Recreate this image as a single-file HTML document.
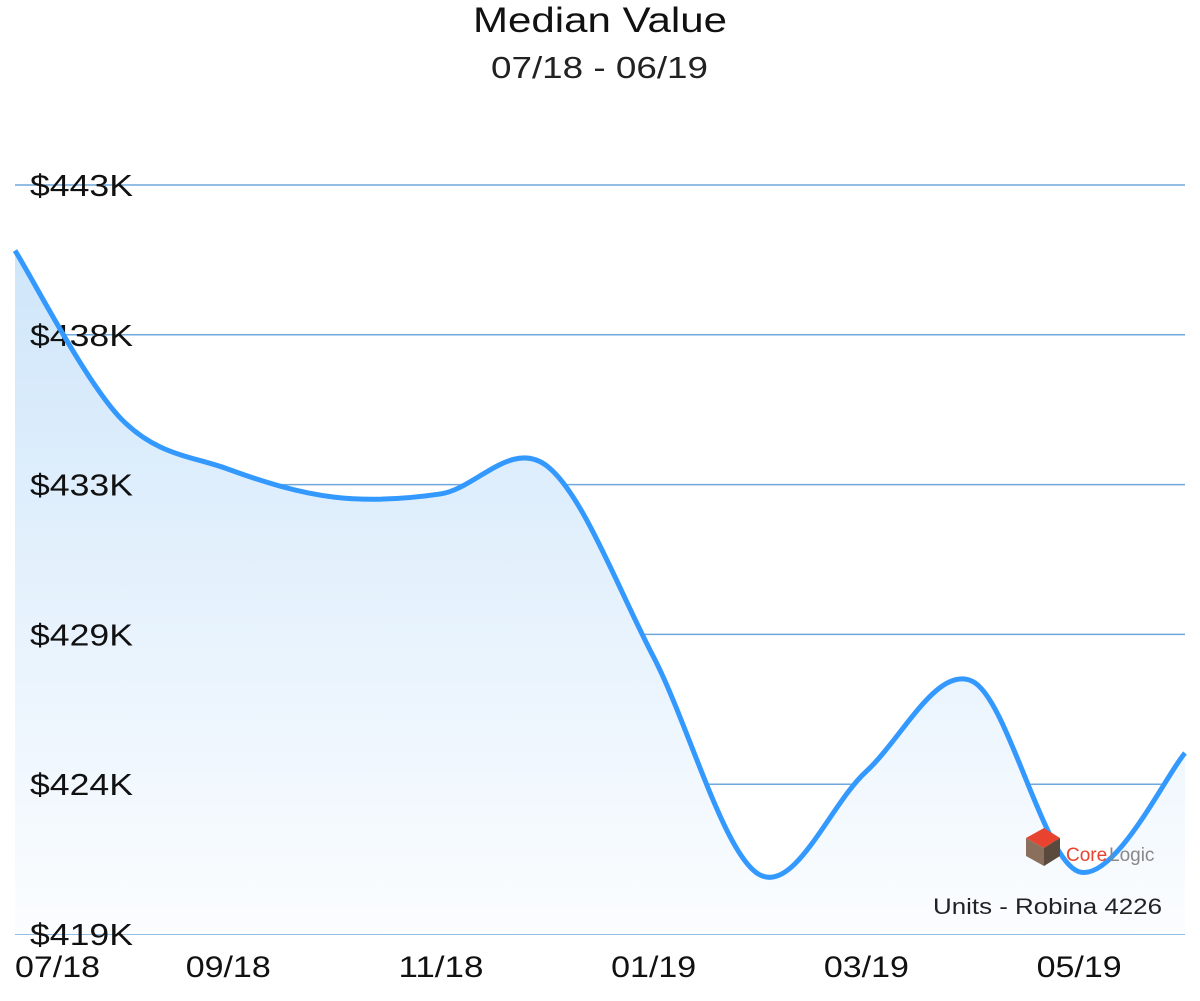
<!DOCTYPE html>
<html><head><meta charset="utf-8"><style>
html,body{margin:0;padding:0;background:#fff;}
svg text{font-family:"Liberation Sans",sans-serif;}
</style></head><body>
<svg id="chart" width="1200" height="996" viewBox="0 0 1200 996" xmlns="http://www.w3.org/2000/svg">
<defs>
<linearGradient id="fillg" x1="0" y1="0" x2="0" y2="1">
<stop offset="0" stop-color="#cfe6fa"/>
<stop offset="1" stop-color="#fbfdff"/>
</linearGradient>
</defs>
<text x="473" y="32" textLength="254" lengthAdjust="spacingAndGlyphs" font-size="35" fill="#111">Median Value</text>
<text x="491" y="78" textLength="217" lengthAdjust="spacingAndGlyphs" font-size="31" fill="#222">07/18 - 06/19</text>
<g id="grid"></g>
<path id="area" fill="url(#fillg)"></path>
<g id="ylabels"></g>
<path id="line" fill="none" stroke="#3399ff" stroke-width="5" stroke-linejoin="round"></path>
<g id="xlabels"></g>
<g>
<polygon points="1026,838 1044,828 1060,838 1044,848" fill="#e8432e"/>
<polygon points="1026,838 1044,848 1044,866 1026,856" fill="#8a6f5c"/>
<polygon points="1044,848 1060,838 1060,856 1044,866" fill="#5a4a3e"/>
<text x="1066" y="861" font-size="19" fill="#e8432e">Core</text><text x="1109" y="861" font-size="19" fill="#888">Logic</text>
</g>
<text x="933" y="914" textLength="229" lengthAdjust="spacingAndGlyphs" font-size="22" fill="#222">Units - Robina 4226</text>
</svg>
<script>
const months=["07/18","08/18","09/18","10/18","11/18","12/18","01/19","02/19","03/19","04/19","05/19","06/19"];
const values=[440.9,435.5,433.9,433.0,433.1,434.0,427.9,420.9,424.2,427.1,421.0,424.8];
const yTickValues=[419,423.8,428.6,433.4,438.2,443];
const yTickLabels=["$419K","$424K","$429K","$433K","$438K","$443K"];
const xLabelIdx=[0,2,4,6,8,10];
const NS="http://www.w3.org/2000/svg";
const X0=15,X1=1185,Y0=934,Y1=185,VMIN=419,VMAX=443;
const xs=i=>X0+(X1-X0)*i/(months.length-1);
const ys=v=>Y0-(v-VMIN)/(VMAX-VMIN)*(Y0-Y1);
const grid=document.getElementById('grid'),yl=document.getElementById('ylabels'),xl=document.getElementById('xlabels');
yTickValues.forEach((v,i)=>{
 const l=document.createElementNS(NS,'line');
 l.setAttribute('x1',15);l.setAttribute('x2',1185);l.setAttribute('y1',ys(v));l.setAttribute('y2',ys(v));
 l.setAttribute('stroke','#6fa8dc');l.setAttribute('stroke-width','1.5');
 
 
 grid.appendChild(l);
 const t=document.createElementNS(NS,'text');
 t.setAttribute('x',30);t.setAttribute('y',ys(v)+11);t.setAttribute('font-size','31');t.setAttribute('fill','#111');
 t.setAttribute('textLength','103');t.setAttribute('lengthAdjust','spacingAndGlyphs');
 t.textContent=yTickLabels[i];
 
 
 yl.appendChild(t);
});
xLabelIdx.forEach(i=>{
 const t=document.createElementNS(NS,'text');
 t.setAttribute('x',i===0?15:xs(i)-42);t.setAttribute('y',977);t.setAttribute('font-size','30');t.setAttribute('fill','#111');
 t.setAttribute('textLength','85');t.setAttribute('lengthAdjust','spacingAndGlyphs');
 t.textContent=months[i];
 
 
 xl.appendChild(t);
});
const pts=values.map((v,i)=>[xs(i),ys(v)]);
let d='M'+pts[0][0]+','+pts[0][1];
for(let i=0;i<pts.length-1;i++){
 const p0=pts[Math.max(0,i-1)],p1=pts[i],p2=pts[i+1],p3=pts[Math.min(pts.length-1,i+2)];
 const c1=[p1[0]+(p2[0]-p0[0])/6,p1[1]+(p2[1]-p0[1])/6];
 const c2=[p2[0]-(p3[0]-p1[0])/6,p2[1]-(p3[1]-p1[1])/6];
 d+=' C'+c1[0]+','+c1[1]+' '+c2[0]+','+c2[1]+' '+p2[0]+','+p2[1];
}
document.getElementById('line').setAttribute('d',d);
document.getElementById('area').setAttribute('d',d+' L'+X1+','+Y0+' L'+X0+','+Y0+' Z');
</script>
</body></html>
